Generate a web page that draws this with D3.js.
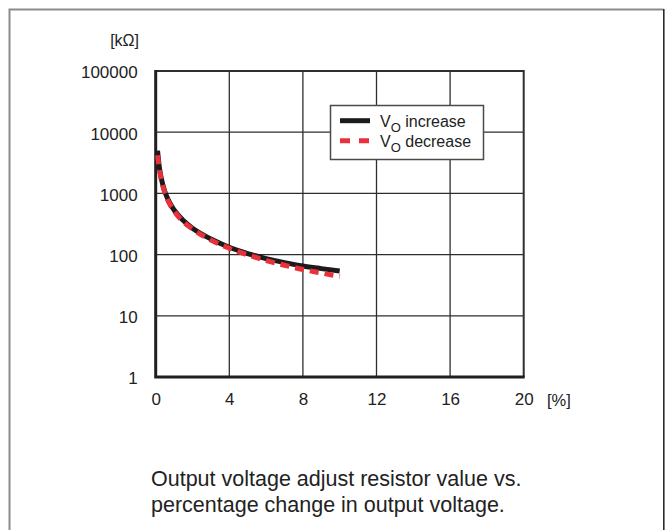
<!DOCTYPE html>
<html>
<head>
<meta charset="utf-8">
<script src="https://cdn.jsdelivr.net/npm/d3@7"></script>
<style>
  html, body { margin: 0; padding: 0; background: #fff; }
  svg { display: block; font-family: "Liberation Sans", Arial, Helvetica, sans-serif; }
</style>
</head>
<body>
<script>
// chart values
const xTicks = [0, 4, 8, 12, 16, 20];
const yTicks = [1, 10, 100, 1000, 10000, 100000];
const pctChange = [0.1, 0.2, 0.3, 0.5, 0.75, 1, 1.5, 2, 3, 4, 5, 6, 7, 8, 9, 10];
const voIncrease = [5000, 2650, 1780, 1060, 710, 535, 360, 270, 180, 132, 104, 86, 74, 65, 59, 54];
const voDecrease = [4200, 2500, 1700, 1020, 680, 515, 345, 262, 173, 127, 99, 80, 67, 57, 50, 44];
const seriesNames = ['increase', 'decrease'];
const caption = [
  'Output voltage adjust resistor value vs.',
  'percentage change in output voltage.',
];

const width = 665;
const height = 530;
const plot = { left: 155.7, right: 523.7, top: 71, bottom: 377 };
const textColor = '#222';

const svg = d3
  .select('body')
  .append('svg')
  .attr('width', width)
  .attr('height', height);

// outer frame (bottom edge runs off the page)
svg.append('path')
  .attr('d', `M9.5,${height + 5}V9.5H663.5`)
  .attr('fill', 'none')
  .attr('stroke', '#8c8c8c')
  .attr('stroke-width', 2);
svg.append('line')
  .attr('x1', 663.8).attr('x2', 663.8)
  .attr('y1', 9).attr('y2', height + 5)
  .attr('stroke', '#2b2b2b')
  .attr('stroke-width', 1.6);

const x = d3.scaleLinear().domain([0, 20]).range([plot.left, plot.right]);
const y = d3.scaleLog().domain([1, 100000]).range([plot.bottom, plot.top]);

// grid
const grid = svg.append('g').attr('stroke', '#2e2e2e').attr('stroke-width', 1.3);
grid.selectAll('.vx')
  .data(xTicks.slice(1, -1))
  .enter()
  .append('line')
  .attr('x1', (d) => x(d)).attr('x2', (d) => x(d))
  .attr('y1', plot.top).attr('y2', plot.bottom);
grid.selectAll('.hy')
  .data(yTicks.slice(1, -1))
  .enter()
  .append('line')
  .attr('x1', plot.left).attr('x2', plot.right)
  .attr('y1', (d) => y(d)).attr('y2', (d) => y(d));

// plot border: thin top/right, thick left/bottom
svg.append('path')
  .attr('d', `M${plot.left},${plot.top}H${plot.right}V${plot.bottom}`)
  .attr('fill', 'none')
  .attr('stroke', '#2e2e2e')
  .attr('stroke-width', 2);
svg.append('path')
  .attr('d', `M${plot.left},${plot.top - 1}V${plot.bottom}H${plot.right + 1}`)
  .attr('fill', 'none')
  .attr('stroke', '#1f1f1f')
  .attr('stroke-width', 3);

// axes labels
const xAxis = svg.append('g')
  .attr('transform', `translate(0,${plot.bottom})`)
  .call(d3.axisBottom(x).tickValues(xTicks).tickSize(0).tickPadding(16).tickFormat(d3.format('d')));
const yAxis = svg.append('g')
  .attr('transform', `translate(${plot.left},0)`)
  .call(d3.axisLeft(y).tickValues(yTicks).tickSize(0).tickPadding(18).tickFormat(d3.format('d')));
[xAxis, yAxis].forEach((g) => {
  g.select('.domain').remove();
  g.selectAll('text')
    .attr('font-size', 17)
    .attr('font-family', null)
    .attr('fill', textColor);
});
yAxis.selectAll('text').attr('dy', '0.4em');

svg.append('text')
  .attr('x', 139).attr('y', 46)
  .attr('text-anchor', 'end')
  .attr('font-size', 16)
  .attr('fill', textColor)
  .text('[kΩ]');
svg.append('text')
  .attr('x', 547).attr('y', 406)
  .attr('font-size', 16.5)
  .attr('fill', textColor)
  .text('[%]');

// curves
const line = (vals) => d3.line()
  .x((d, i) => x(pctChange[i]))
  .y((d) => y(d))
  .curve(d3.curveMonotoneX)(vals);

svg.append('path')
  .attr('d', line(voIncrease))
  .attr('fill', 'none')
  .attr('stroke', '#1c1a1b')
  .attr('stroke-width', 5);
svg.append('path')
  .attr('d', line(voDecrease))
  .attr('fill', 'none')
  .attr('stroke', '#e8313a')
  .attr('stroke-width', 5)
  .attr('stroke-dasharray', '9,6');

// legend
const legend = svg.append('g');
legend.append('rect')
  .attr('x', 330.5).attr('y', 105.5)
  .attr('width', 153).attr('height', 54)
  .attr('fill', '#fff')
  .attr('stroke', '#4a4a4a')
  .attr('stroke-width', 1.5);
seriesNames.forEach((name, i) => {
  const cy = 120.7 + i * 20;
  legend.append('line')
    .attr('x1', 340).attr('x2', 370)
    .attr('y1', cy).attr('y2', cy)
    .attr('stroke', i === 0 ? '#1c1a1b' : '#e8313a')
    .attr('stroke-width', 5)
    .attr('stroke-dasharray', i === 0 ? null : '10,9');
  const t = legend.append('text')
    .attr('x', 380).attr('y', cy + 6)
    .attr('font-size', 16)
    .attr('fill', textColor);
  t.append('tspan').text('V');
  t.append('tspan').attr('font-size', 13).attr('dy', 5).text('O');
  t.append('tspan').attr('dy', -5).text(' ' + name);
});

// caption
svg.append('g')
  .selectAll('text')
  .data(caption)
  .enter()
  .append('text')
  .attr('x', 151)
  .attr('y', (d, i) => 486 + i * 26)
  .attr('font-size', 21.5)
  .attr('fill', textColor)
  .text((d) => d);
</script>
</body>
</html>
